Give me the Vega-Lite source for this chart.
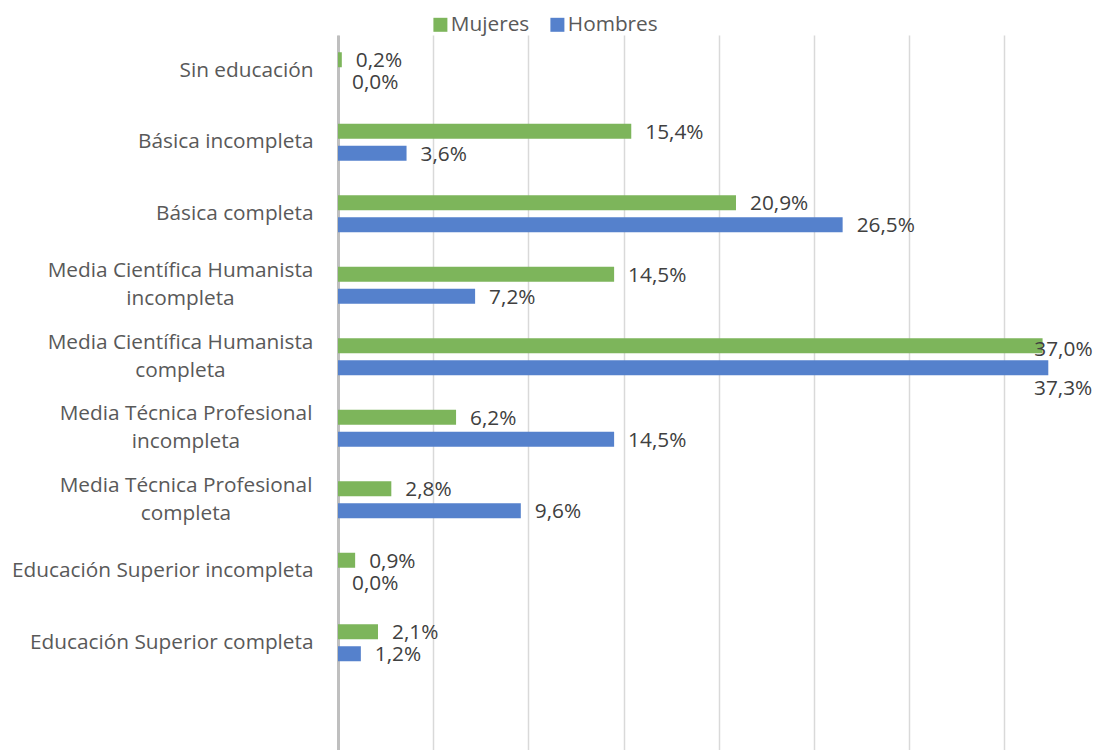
{
  "$schema": "https://vega.github.io/schema/vega-lite/v6.json",
  "autosize": "none",
  "padding": {"left": 338, "top": 35, "right": 0, "bottom": 0},
  "width": 756,
  "height": 715,
  "background": "white",
  "config": {
    "view": {"stroke": null},
    "font": "Open Sans",
    "locale": {"number": {"decimal": ",", "thousands": ".", "grouping": [3], "currency": ["", " €"]}}
  },
  "data": {
    "values": [
      {"nivel": "Sin educación", "sexo": "Mujeres", "valor": 0.002},
      {"nivel": "Sin educación", "sexo": "Hombres", "valor": 0.0},
      {"nivel": "Básica incompleta", "sexo": "Mujeres", "valor": 0.154},
      {"nivel": "Básica incompleta", "sexo": "Hombres", "valor": 0.036},
      {"nivel": "Básica completa", "sexo": "Mujeres", "valor": 0.209},
      {"nivel": "Básica completa", "sexo": "Hombres", "valor": 0.265},
      {"nivel": "Media Científica Humanista incompleta", "sexo": "Mujeres", "valor": 0.145},
      {"nivel": "Media Científica Humanista incompleta", "sexo": "Hombres", "valor": 0.072},
      {"nivel": "Media Científica Humanista completa", "sexo": "Mujeres", "valor": 0.370},
      {"nivel": "Media Científica Humanista completa", "sexo": "Hombres", "valor": 0.373},
      {"nivel": "Media Técnica Profesional incompleta", "sexo": "Mujeres", "valor": 0.062},
      {"nivel": "Media Técnica Profesional incompleta", "sexo": "Hombres", "valor": 0.145},
      {"nivel": "Media Técnica Profesional completa", "sexo": "Mujeres", "valor": 0.028},
      {"nivel": "Media Técnica Profesional completa", "sexo": "Hombres", "valor": 0.096},
      {"nivel": "Educación Superior incompleta", "sexo": "Mujeres", "valor": 0.009},
      {"nivel": "Educación Superior incompleta", "sexo": "Hombres", "valor": 0.0},
      {"nivel": "Educación Superior completa", "sexo": "Mujeres", "valor": 0.021},
      {"nivel": "Educación Superior completa", "sexo": "Hombres", "valor": 0.012}
    ]
  },
  "encoding": {
    "y": {
      "field": "nivel",
      "type": "nominal",
      "scale": {
        "domain": ["Sin educación", "Básica incompleta", "Básica completa", "Media Científica Humanista incompleta", "Media Científica Humanista completa", "Media Técnica Profesional incompleta", "Media Técnica Profesional completa", "Educación Superior incompleta", "Educación Superior completa", " "],
        "paddingInner": 0,
        "paddingOuter": 0
      },
      "axis": {
        "title": null,
        "ticks": false,
        "tickSize": 0,
        "grid": false,
        "domain": true,
        "domainColor": "#BFBFBF",
        "domainWidth": 3,
        "labelFont": "Open Sans",
        "labelFontSize": 20.8,
        "labelColor": "#595959",
        "labelLineHeight": 28,
        "labelBaseline": "middle",
        "labelLimit": 400,
        "labelExpr": "indexof(datum.value,'Media')==0 ? [substring(datum.value,0,lastindexof(datum.value,' ')), substring(datum.value,lastindexof(datum.value,' ')+1)] : datum.value",
        "labelAlign": {"condition": {"test": "indexof(datum.value,'Media')==0", "value": "center"}, "value": "right"},
        "labelOffset": {"condition": {"test": "indexof(datum.value,'Media')==0", "value": -14}, "value": 0},
        "labelPadding": {
          "condition": [
            {"test": "indexof(datum.value,'Media Cient')==0", "value": 158},
            {"test": "indexof(datum.value,'Media Téc')==0", "value": 152.5}
          ],
          "value": 25
        }
      }
    },
    "x": {
      "field": "valor",
      "type": "quantitative",
      "scale": {"domain": [0, 0.397], "nice": false, "zero": true},
      "axis": {
        "title": null,
        "labels": false,
        "ticks": false,
        "domain": false,
        "grid": true,
        "gridColor": "#D9D9D9",
        "gridWidth": 1.5,
        "values": [0, 0.05, 0.1, 0.15, 0.2, 0.25, 0.3, 0.35]
      }
    },
    "yOffset": {
      "field": "sexo",
      "type": "nominal",
      "scale": {"domain": ["Mujeres", "Hombres"], "paddingInner": 0.318, "paddingOuter": 0.784}
    }
  },
  "layer": [
    {
      "mark": {"type": "bar"},
      "encoding": {
        "color": {
          "field": "sexo",
          "type": "nominal",
          "scale": {"domain": ["Mujeres", "Hombres"], "range": ["#7DB55B", "#5581CC"]},
          "legend": {
            "title": null,
            "orient": "none",
            "direction": "horizontal",
            "legendX": 92,
            "legendY": -21,
            "padding": 0,
            "symbolType": "square",
            "symbolSize": 196,
            "symbolStrokeWidth": 0,
            "labelFont": "Open Sans",
            "labelFontSize": 20.8,
            "labelColor": "#595959",
            "labelOffset": 0,
            "columnPadding": 17
          }
        }
      }
    },
    {
      "transform": [{"filter": "datum.valor < 0.36"}],
      "mark": {"type": "text", "align": "left", "baseline": "middle", "dx": 14, "dy": 1.5, "fontSize": 20.8, "font": "Open Sans", "color": "#404040"},
      "encoding": {"text": {"field": "valor", "type": "quantitative", "format": ".1%"}}
    },
    {
      "transform": [{"filter": "datum.valor >= 0.36 && datum.sexo == 'Mujeres'"}],
      "mark": {"type": "text", "align": "right", "baseline": "middle", "dx": 50, "dy": 4, "fontSize": 20.8, "font": "Open Sans", "color": "#404040"},
      "encoding": {"text": {"field": "valor", "type": "quantitative", "format": ".1%"}}
    },
    {
      "transform": [{"filter": "datum.valor >= 0.36 && datum.sexo == 'Hombres'"}],
      "mark": {"type": "text", "align": "right", "baseline": "middle", "dx": 44, "dy": 21, "fontSize": 20.8, "font": "Open Sans", "color": "#404040"},
      "encoding": {"text": {"field": "valor", "type": "quantitative", "format": ".1%"}}
    }
  ]
}
